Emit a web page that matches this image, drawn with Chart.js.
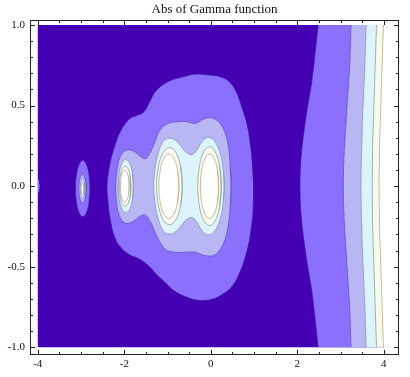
<!DOCTYPE html>
<html><head><meta charset="utf-8">
<script src="https://cdn.jsdelivr.net/npm/chart.js@4.4.1/dist/chart.umd.min.js"></script>
<style>html,body{margin:0;padding:0;background:#fff;}#wrap{width:410px;height:377px;position:relative;}</style>
</head><body><div id="wrap"><canvas id="c"></canvas></div>
<script>
const chartTitle = 'Abs of Gamma function';
const xTickValues = [-4, -2, 0, 2, 4];
const xTickLabels = ['-4', '-2', '0', '2', '4'];
const yTickValues = [-1, -0.5, 0, 0.5, 1];
const yTickLabels = ['-1.0', '-0.5', '0.0', '0.5', '1.0'];
const domainX = [-4, 4];
const domainY = [-1, 1];

// contour |Gamma| = 1 (dark -> medium)
const level1Main = [[0.99,0],[0.96,0.14],[0.91,0.27],[0.84,0.38],[0.73,0.48],[0.58,0.59],[0.42,0.65],[0.20,0.68],[-0.05,0.69],[-0.36,0.695],[-0.62,0.68],[-0.98,0.65],[-1.27,0.59],[-1.42,0.52],[-1.55,0.46],[-1.70,0.44],[-1.87,0.42],[-2.07,0.35],[-2.22,0.25],[-2.34,0.13],[-2.40,0],[-2.38,-0.09],[-2.33,-0.20],[-2.22,-0.32],[-2.05,-0.39],[-1.85,-0.43],[-1.67,-0.45],[-1.46,-0.49],[-1.25,-0.55],[-1.05,-0.60],[-0.85,-0.65],[-0.55,-0.69],[-0.25,-0.71],[0.05,-0.70],[0.28,-0.67],[0.50,-0.62],[0.68,-0.53],[0.82,-0.42],[0.92,-0.29],[0.98,-0.14]];
const level1Pole3 = [[-2.79,-0.015],[-2.813,0.07],[-2.875,0.135],[-2.96,0.16],[-3.045,0.135],[-3.107,0.07],[-3.13,-0.015],[-3.107,-0.10],[-3.045,-0.165],[-2.96,-0.19],[-2.875,-0.165],[-2.813,-0.10]];
const level1Pole4 = [[-4.0,0.045],[-3.972,0.035],[-3.957,0.0],[-3.972,-0.035],[-4.0,-0.045]];
// contour |Gamma| = 2 (medium -> lavender)
const level2Main = [[0.47,0],[0.45,0.12],[0.41,0.24],[0.33,0.33],[0.21,0.39],[0.06,0.42],[-0.13,0.42],[-0.36,0.39],[-0.55,0.40],[-0.75,0.40],[-0.98,0.39],[-1.17,0.35],[-1.30,0.27],[-1.42,0.20],[-1.52,0.17],[-1.65,0.19],[-1.80,0.22],[-1.98,0.22],[-2.10,0.18],[-2.17,0.10],[-2.20,0],[-2.18,-0.10],[-2.12,-0.18],[-1.98,-0.23],[-1.80,-0.22],[-1.65,-0.19],[-1.52,-0.18],[-1.40,-0.22],[-1.25,-0.31],[-1.06,-0.39],[-0.85,-0.41],[-0.60,-0.41],[-0.36,-0.41],[-0.15,-0.43],[0.06,-0.43],[0.20,-0.40],[0.33,-0.33],[0.41,-0.23],[0.45,-0.12]];
const level2Pole3 = [[-2.88,-0.015],[-2.905,0.049],[-2.965,0.075],[-3.025,0.049],[-3.05,-0.015],[-3.025,-0.079],[-2.965,-0.105],[-2.905,-0.079]];
// contour |Gamma| = 3 (lavender -> cyan)
const level3Main = [[0.31,0],[0.29,0.09],[0.24,0.18],[0.15,0.25],[0.03,0.295],[-0.10,0.30],[-0.22,0.27],[-0.33,0.22],[-0.45,0.195],[-0.57,0.21],[-0.70,0.25],[-0.85,0.29],[-1.00,0.295],[-1.12,0.27],[-1.22,0.20],[-1.29,0.11],[-1.32,0],[-1.29,-0.11],[-1.22,-0.20],[-1.12,-0.27],[-1.00,-0.295],[-0.85,-0.29],[-0.70,-0.25],[-0.57,-0.21],[-0.45,-0.195],[-0.33,-0.22],[-0.22,-0.27],[-0.10,-0.30],[0.03,-0.295],[0.15,-0.25],[0.24,-0.18],[0.29,-0.09]];
const level3Pole2 = [[-1.79,0],[-1.813,0.083],[-1.878,0.143],[-1.965,0.165],[-2.053,0.143],[-2.117,0.083],[-2.14,0],[-2.117,-0.083],[-2.053,-0.143],[-1.965,-0.165],[-1.878,-0.143],[-1.813,-0.083]];
const level3Pole3 = [[-2.91,-0.015],[-2.926,0.027],[-2.965,0.045],[-3.004,0.027],[-3.02,-0.015],[-3.004,-0.057],[-2.965,-0.075],[-2.926,-0.057]];
// contour |Gamma| = 4 (cyan -> cream)
const level4Pole0 = [[0.24,0],[0.204,0.123],[0.105,0.212],[-0.03,0.245],[-0.165,0.212],[-0.264,0.123],[-0.30,0],[-0.264,-0.123],[-0.165,-0.212],[-0.03,-0.245],[0.105,-0.212],[0.204,-0.123]];
const level4Pole1 = [[-0.66,0],[-0.70,0.12],[-0.808,0.208],[-0.955,0.24],[-1.103,0.208],[-1.21,0.12],[-1.25,0],[-1.21,-0.12],[-1.103,-0.208],[-0.955,-0.24],[-0.808,-0.208],[-0.70,-0.12]];
const level4Pole2 = [[-1.85,0],[-1.865,0.063],[-1.914,0.108],[-1.98,0.125],[-2.047,0.108],[-2.095,0.063],[-2.115,0],[-2.095,-0.063],[-2.047,-0.108],[-1.98,-0.125],[-1.914,-0.108],[-1.865,-0.063]];
const level4Pole3 = [[-2.93,-0.015],[-2.94,0.013],[-2.965,0.025],[-2.99,0.013],[-3.0,-0.015],[-2.99,-0.043],[-2.965,-0.055],[-2.94,-0.043]];
// contour |Gamma| = 5 (cream -> white)
const level5Pole0 = [[0.18,0],[0.152,0.10],[0.075,0.173],[-0.03,0.20],[-0.135,0.173],[-0.212,0.10],[-0.24,0],[-0.212,-0.10],[-0.135,-0.173],[-0.03,-0.20],[0.075,-0.173],[0.152,-0.10]];
const level5Pole1 = [[-0.74,0],[-0.771,0.10],[-0.855,0.173],[-0.97,0.20],[-1.085,0.173],[-1.169,0.10],[-1.20,0],[-1.169,-0.10],[-1.085,-0.173],[-0.97,-0.20],[-0.855,-0.173],[-0.771,-0.10]];
const level5Pole2 = [[-1.885,0],[-1.901,0.05],[-1.94,0.087],[-1.99,0.10],[-2.04,0.087],[-2.079,0.05],[-2.09,0],[-2.079,-0.05],[-2.04,-0.087],[-1.99,-0.10],[-1.94,-0.087],[-1.901,-0.05]];
// right-hand contours, x position at each y
const rightY  = [1,0.875,0.75,0.625,0.5,0.375,0.25,0.125,0,-0.125,-0.25,-0.375,-0.5,-0.625,-0.75,-0.875,-1];
const rightL1 = [2.48,2.43,2.38,2.32,2.24,2.17,2.11,2.07,2.06,2.07,2.11,2.17,2.24,2.32,2.38,2.43,2.48];
const rightL2 = [3.24,3.225,3.21,3.18,3.15,3.12,3.09,3.07,3.06,3.07,3.09,3.12,3.15,3.18,3.21,3.225,3.24];
const rightL3 = [3.59,3.575,3.56,3.54,3.52,3.50,3.49,3.475,3.47,3.475,3.49,3.50,3.52,3.54,3.56,3.575,3.59];
const rightL4 = [3.83,3.815,3.80,3.785,3.77,3.755,3.74,3.735,3.73,3.735,3.74,3.755,3.77,3.785,3.80,3.815,3.83];
const rightL5 = [3.99,3.975,3.96,3.945,3.93,3.915,3.90,3.895,3.89,3.895,3.90,3.915,3.93,3.945,3.96,3.975,3.99];

const bandColors = ['#4500b3', '#8b6ffd', '#b9b6f4', '#ddf4fd', '#f7faee', '#ffffff'];
const lineColors = ['rgba(60,20,150,0.7)', 'rgba(95,85,200,0.8)', 'rgba(140,150,195,0.85)', 'rgba(150,165,155,0.85)', 'rgba(195,180,150,0.9)'];

const toXY = p => ({x: p[0], y: p[1]});
function closedShape(pts, band, level) {
  const n = pts.length;
  const wrapped = [pts[n - 1], ...pts, pts[0], pts[1]];
  return {data: wrapped.map(toXY), showLine: true, fill: 'shape', backgroundColor: bandColors[band],
    borderColor: level === null ? 'rgba(0,0,0,0)' : lineColors[level], borderWidth: level === null ? 0 : 1,
    pointRadius: 0, pointHoverRadius: 0, tension: 0.4};
}
function edgeShape(pts, band) {
  return {data: pts.map(toXY), showLine: true, fill: 'shape', backgroundColor: bandColors[band],
    borderWidth: 0, borderColor: 'rgba(0,0,0,0)', pointRadius: 0, pointHoverRadius: 0, tension: 0};
}
function rightRegion(xs, band) {
  const pts = xs.map((x, i) => [x, rightY[i]]);
  pts.push([domainX[1], rightY[rightY.length - 1]], [domainX[1], rightY[0]], [xs[0], rightY[0]]);
  return edgeShape(pts, band);
}
function rightLine(xs, level) {
  return {data: xs.map((x, i) => ({x, y: rightY[i]})), showLine: true, fill: false,
    borderColor: lineColors[level], borderWidth: 1, pointRadius: 0, pointHoverRadius: 0, tension: 0.3};
}

const layers = [
  edgeShape([[domainX[0], domainY[0]], [domainX[1], domainY[0]], [domainX[1], domainY[1]], [domainX[0], domainY[1]], [domainX[0], domainY[0]]], 0),
  rightRegion(rightL1, 1), rightLine(rightL1, 0),
  rightRegion(rightL2, 2), rightLine(rightL2, 1),
  rightRegion(rightL3, 3), rightLine(rightL3, 2),
  rightRegion(rightL4, 4), rightLine(rightL4, 3),
  rightRegion(rightL5, 5), rightLine(rightL5, 4),
  closedShape(level1Main, 1, 0), closedShape(level1Pole3, 1, 0), edgeShape([...level1Pole4, level1Pole4[0]], 1),
  closedShape(level2Main, 2, 1), closedShape(level2Pole3, 2, 1),
  closedShape(level3Main, 3, 2), closedShape(level3Pole2, 3, 2), closedShape(level3Pole3, 3, 2),
  closedShape(level4Pole0, 4, 3), closedShape(level4Pole1, 4, 3), closedShape(level4Pole2, 4, 3), closedShape(level4Pole3, 5, 3),
  closedShape(level5Pole0, 5, 4), closedShape(level5Pole1, 5, 4), closedShape(level5Pole2, 5, 4)
];
layers.forEach((d, i) => { d.order = layers.length - i; });

const near = (a, b) => Math.abs(a - b) < 1e-6;
const frameTicks = {
  id: 'frameTicks',
  afterDraw(chart) {
    const {ctx, chartArea: a, scales: {x, y}} = chart;
    ctx.save();
    ctx.strokeStyle = '#222';
    ctx.lineWidth = 1;
    ctx.beginPath();
    x.ticks.forEach(t => {
      const px = Math.round(x.getPixelForValue(t.value)) + 0.5;
      const len = xTickValues.some(v => near(v, t.value)) ? 5 : 3;
      ctx.moveTo(px, a.bottom); ctx.lineTo(px, a.bottom - len);
      ctx.moveTo(px, a.top); ctx.lineTo(px, a.top + len);
    });
    y.ticks.forEach(t => {
      const py = Math.round(y.getPixelForValue(t.value)) + 0.5;
      const len = yTickValues.some(v => near(v, t.value)) ? 5 : 3;
      ctx.moveTo(a.left, py); ctx.lineTo(a.left + len, py);
      ctx.moveTo(a.right, py); ctx.lineTo(a.right - len, py);
    });
    ctx.stroke();
    ctx.strokeRect(a.left + 0.5, a.top + 0.5, a.right - a.left - 1, a.bottom - a.top - 1);
    // title, centred over the plot frame
    ctx.fillStyle = '#111';
    ctx.font = "13px 'Liberation Serif', serif";
    ctx.textAlign = 'center';
    ctx.textBaseline = 'alphabetic';
    ctx.fillText(chartTitle, (a.left + a.right) / 2, 12.5);
    ctx.restore();
  }
};

const tickFont = {family: "'Liberation Serif', serif", size: 11};
new Chart(document.getElementById('c'), {
  type: 'scatter',
  data: {datasets: layers},
  options: {
    responsive: true, maintainAspectRatio: false, animation: false,
    layout: {padding: {left: 0, right: 11, top: 20, bottom: 0}},
    plugins: {legend: {display: false}, tooltip: {enabled: false}, title: {display: false}},
    scales: {
      x: {type: 'linear', min: -4.18, max: 4.35,
        grid: {display: false, drawTicks: false}, border: {display: false},
        ticks: {stepSize: 0.5, maxTicksLimit: 100, includeBounds: false, autoSkip: false, maxRotation: 0, padding: 3, color: '#111', font: tickFont,
          callback: v => { const i = xTickValues.findIndex(t => near(t, v)); return i < 0 ? '' : xTickLabels[i]; }},
        afterFit: s => { s.height = 22; }},
      y: {type: 'linear', min: -1.048, max: 1.031,
        grid: {display: false, drawTicks: false}, border: {display: false},
        ticks: {stepSize: 0.1, maxTicksLimit: 100, includeBounds: false, autoSkip: false, padding: 5, color: '#111', font: tickFont,
          callback: v => { const i = yTickValues.findIndex(t => near(t, v)); return i < 0 ? '' : yTickLabels[i]; }},
        afterFit: s => { s.width = 30; }}
    }
  },
  plugins: [frameTicks]
});
</script></body></html>
